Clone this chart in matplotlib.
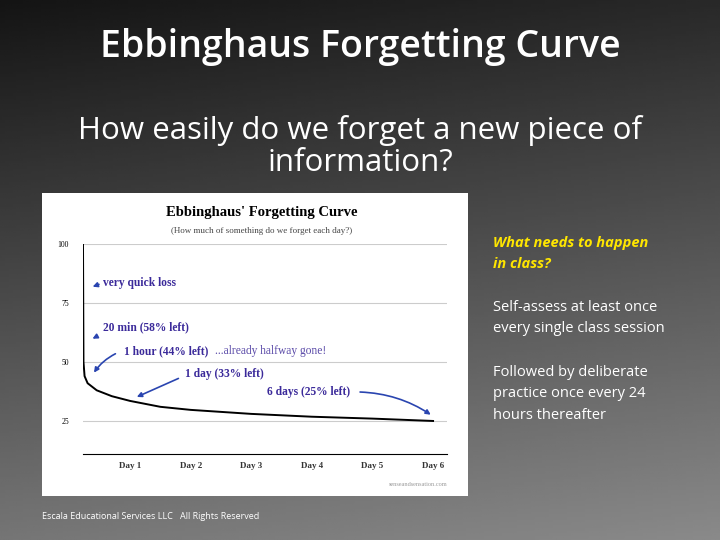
import numpy as np
import matplotlib
matplotlib.use("Agg")
import matplotlib.pyplot as plt
from matplotlib.patches import Rectangle

# Data (days on axis, percent retained)
days = [0.224, 0.232, 0.25, 0.3, 0.45, 0.7, 1.0, 1.5, 2.0, 3.0, 4.0, 5.0, 6.0]
retained = [100, 50, 44, 41, 38, 35.5, 33.5, 31, 29.7, 28, 26.8, 26, 25]
day_ticks = [1, 2, 3, 4, 5, 6]
day_labels = ["Day 1", "Day 2", "Day 3", "Day 4", "Day 5", "Day 6"]
y_ticks = [25, 50, 75, 100]

fig = plt.figure(figsize=(7.2, 5.4), dpi=100)

# background gradient
bg = fig.add_axes([0, 0, 1, 1])
yy, xx = np.mgrid[0:1:200j, 0:1:200j]
g = 0.08 + 0.38 * yy + 0.08 * xx
bg.imshow(g, cmap="gray", vmin=0, vmax=1, extent=[0, 1, 0, 1], aspect="auto", origin="upper")
bg.set_axis_off()
bg.set_xlim(0, 1); bg.set_ylim(0, 1)

sans = ["Open Sans", "DejaVu Sans"]
fig.text(0.5, 0.913, "Ebbinghaus Forgetting Curve", ha="center", va="center",
         color="white", fontsize=27, fontweight="semibold", family=sans)
fig.text(0.5, 0.729, "How easily do we forget a new piece of\ninformation?", ha="center",
         va="center", color="white", fontsize=22.5, family=sans, linespacing=1.1)
fig.text(0.685, 0.531, "What needs to happen\nin class?", color="#ffe600", fontsize=10.5,
         fontweight="bold", style="italic", family=sans, va="center", linespacing=1.6)
fig.text(0.685, 0.411, "Self-assess at least once\nevery single class session", color="white",
         fontsize=10.5, family=sans, va="center", linespacing=1.6)
fig.text(0.685, 0.271, "Followed by deliberate\npractice once every 24\nhours thereafter",
         color="white", fontsize=10.5, family=sans, va="center", linespacing=1.6)
fig.text(0.058, 0.044, "Escala Educational Services LLC   All Rights Reserved", color="white",
         fontsize=6.5, family=sans, va="center")

# white inner picture
fig.patches.append(Rectangle((42/720, 1-496/540), 426/720, 303/540, transform=fig.transFigure,
                             facecolor="white", edgecolor="none", zorder=1))

serif = ["Liberation Serif", "DejaVu Serif"]
fig.text(262/720, 1-213/540, "Ebbinghaus' Forgetting Curve", ha="center", va="center",
         fontsize=10.5, fontweight="bold", family=serif, zorder=3)
fig.text(262/720, 1-231/540, "(How much of something do we forget each day?)", ha="center",
         va="center", fontsize=6.5, family=serif, color="#444444", zorder=3)
fig.text(447/720, 1-484/540, "senseandsensation.com", ha="right", va="center",
         fontsize=4.5, family=serif, color="#999999", zorder=3)

ax = fig.add_axes([83/720, 1-454/540, 364/720, 210/540], zorder=2)
ax.patch.set_alpha(0)
ax.set_xlim(0.224, 6.23)
ax.set_ylim(11, 100)
for v in y_ticks:
    ax.axhline(v, color="#cccccc", lw=0.8, zorder=0)
ax.plot(days, retained, color="black", lw=1.4, zorder=3)
for s in ["top", "right", "left"]:
    ax.spines[s].set_visible(False)
ax.spines["bottom"].set_linewidth(0.8)
ax.set_yticks(y_ticks)
ax.set_yticklabels([str(v) for v in y_ticks], fontsize=5.5, family=serif)
ax.tick_params(axis="y", length=0, pad=10)
ax.set_xticks(day_ticks)
ax.set_xticklabels(day_labels, fontsize=6.5, fontweight="bold", family=serif, color="#333333")
ax.tick_params(axis="x", length=0, pad=6)

tc = "#3b2a9a"
ac = "#2a45b0"
ak = dict(arrowstyle="-|>", color=ac, lw=1.2, mutation_scale=7)
def note(txt, xy_text, xy_arrow_from, xy_arrow_to, rad=0.0):
    ax.text(*xy_text, txt, fontsize=8.3, fontweight="bold", family=serif, color=tc, va="center")
    ax.annotate("", xy=xy_arrow_to, xytext=xy_arrow_from,
                arrowprops=dict(ak, connectionstyle=f"arc3,rad={rad}"))

note("very quick loss", (0.56, 83.5), (0.53, 83.3), (0.34, 81.5))
note("20 min (58% left)", (0.56, 64.8), (0.50, 61.5), (0.34, 59.3))
note("1 hour (44% left)", (0.9, 54.7), (0.80, 54.0), (0.38, 44.5), rad=0.15)
ax.text(2.4, 54.7, "...already halfway gone!", fontsize=8.3, family=serif, color="#5a4aa8", va="center")
note("1 day (33% left)", (1.9, 44.9), (1.84, 43.5), (1.07, 34.7))
note("6 days (25% left)", (3.26, 37.3), (4.75, 37.3), (6.0, 27.0), rad=-0.15)

fig.savefig("out.png", dpi=100)
